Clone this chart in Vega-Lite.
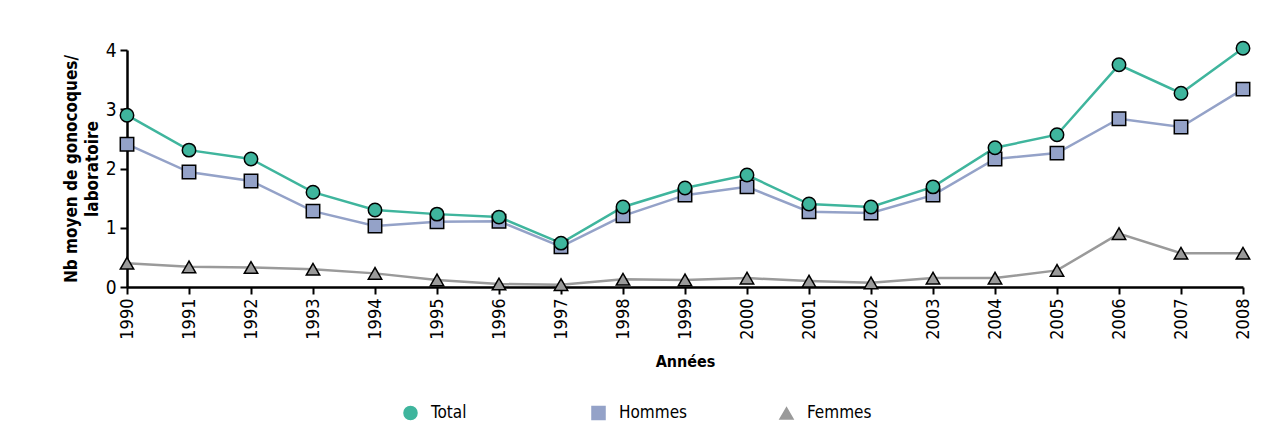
{
  "$schema": "https://vega.github.io/schema/vega-lite/v6.json",
  "autosize": "none",
  "width": 1116,
  "height": 237,
  "padding": {"left": 127, "top": 50, "right": 42, "bottom": 152},
  "background": "white",
  "config": {
    "font": "DejaVu Sans Condensed, Roboto",
    "view": {"stroke": null},
    "axis": {"domainColor": "black", "tickColor": "black", "labelColor": "black", "titleColor": "black", "grid": false}
  },
  "data": {"values": [
    {"year": "1990", "s": "Femmes", "v": 0.40}, {"year": "1991", "s": "Femmes", "v": 0.34}, {"year": "1992", "s": "Femmes", "v": 0.33},
    {"year": "1993", "s": "Femmes", "v": 0.30}, {"year": "1994", "s": "Femmes", "v": 0.23}, {"year": "1995", "s": "Femmes", "v": 0.12},
    {"year": "1996", "s": "Femmes", "v": 0.05}, {"year": "1997", "s": "Femmes", "v": 0.04}, {"year": "1998", "s": "Femmes", "v": 0.13},
    {"year": "1999", "s": "Femmes", "v": 0.12}, {"year": "2000", "s": "Femmes", "v": 0.15}, {"year": "2001", "s": "Femmes", "v": 0.10},
    {"year": "2002", "s": "Femmes", "v": 0.07}, {"year": "2003", "s": "Femmes", "v": 0.15}, {"year": "2004", "s": "Femmes", "v": 0.15},
    {"year": "2005", "s": "Femmes", "v": 0.28}, {"year": "2006", "s": "Femmes", "v": 0.90}, {"year": "2007", "s": "Femmes", "v": 0.57},
    {"year": "2008", "s": "Femmes", "v": 0.57},
    {"year": "1990", "s": "Hommes", "v": 2.41}, {"year": "1991", "s": "Hommes", "v": 1.94}, {"year": "1992", "s": "Hommes", "v": 1.79},
    {"year": "1993", "s": "Hommes", "v": 1.28}, {"year": "1994", "s": "Hommes", "v": 1.03}, {"year": "1995", "s": "Hommes", "v": 1.10},
    {"year": "1996", "s": "Hommes", "v": 1.11}, {"year": "1997", "s": "Hommes", "v": 0.68}, {"year": "1998", "s": "Hommes", "v": 1.20},
    {"year": "1999", "s": "Hommes", "v": 1.55}, {"year": "2000", "s": "Hommes", "v": 1.69}, {"year": "2001", "s": "Hommes", "v": 1.27},
    {"year": "2002", "s": "Hommes", "v": 1.25}, {"year": "2003", "s": "Hommes", "v": 1.55}, {"year": "2004", "s": "Hommes", "v": 2.16},
    {"year": "2005", "s": "Hommes", "v": 2.26}, {"year": "2006", "s": "Hommes", "v": 2.84}, {"year": "2007", "s": "Hommes", "v": 2.70},
    {"year": "2008", "s": "Hommes", "v": 3.34},
    {"year": "1990", "s": "Total", "v": 2.90}, {"year": "1991", "s": "Total", "v": 2.31}, {"year": "1992", "s": "Total", "v": 2.16},
    {"year": "1993", "s": "Total", "v": 1.60}, {"year": "1994", "s": "Total", "v": 1.30}, {"year": "1995", "s": "Total", "v": 1.23},
    {"year": "1996", "s": "Total", "v": 1.18}, {"year": "1997", "s": "Total", "v": 0.74}, {"year": "1998", "s": "Total", "v": 1.35},
    {"year": "1999", "s": "Total", "v": 1.67}, {"year": "2000", "s": "Total", "v": 1.89}, {"year": "2001", "s": "Total", "v": 1.40},
    {"year": "2002", "s": "Total", "v": 1.35}, {"year": "2003", "s": "Total", "v": 1.69}, {"year": "2004", "s": "Total", "v": 2.35},
    {"year": "2005", "s": "Total", "v": 2.57}, {"year": "2006", "s": "Total", "v": 3.75}, {"year": "2007", "s": "Total", "v": 3.27},
    {"year": "2008", "s": "Total", "v": 4.03}
  ]},
  "encoding": {
    "x": {"field": "year", "type": "ordinal", "scale": {"type": "point", "padding": 0},
      "axis": {"title": "Années", "labelAngle": -90, "labelFontSize": 18, "titleFontSize": 16, "titleFontWeight": "bold", "domainWidth": 2.5, "tickWidth": 2, "tickSize": 7, "labelPadding": 4, "titlePadding": 14}},
    "y": {"field": "v", "type": "quantitative", "scale": {"domain": [0, 4], "nice": false},
      "axis": {"title": ["Nb moyen de gonocoques/", "laboratoire"], "values": [0, 1, 2, 3, 4], "labelFontSize": 19, "titleFontSize": 17, "titleFontWeight": "bold", "domainWidth": 2.5, "tickWidth": 2, "tickSize": 7, "labelPadding": 4, "titlePadding": 4, "titleLineHeight": 21}}
  },
  "layer": [
    {
      "mark": {"type": "line", "strokeWidth": 2.5},
      "encoding": {
        "color": {"field": "s", "type": "nominal",
          "scale": {"domain": ["Total", "Hommes", "Femmes"], "range": ["#3fb59d", "#94a2c8", "#9a9a9a"]},
          "legend": {"title": null, "orient": "none", "legendX": 275, "legendY": 354, "direction": "horizontal", "columns": 3, "gridAlign": "all", "labelFontSize": 17, "columnPadding": 88, "symbolSize": 170, "labelOffset": 12, "labelColor": "black",
            "encode": {"symbols": {"enter": {"stroke": {"value": "black"}, "strokeWidth": {"value": 1.5}}, "update": {"stroke": {"value": "black"}, "strokeWidth": {"value": 1.5}}}}}}
      }
    },
    {
      "mark": {"type": "point", "filled": true, "stroke": "black", "strokeWidth": 1.5, "opacity": 1, "size": 180},
      "encoding": {
        "color": {"field": "s", "type": "nominal"},
        "shape": {"field": "s", "type": "nominal",
          "scale": {"domain": ["Total", "Hommes", "Femmes"], "range": ["circle", "square", "triangle-up"]}}
      }
    }
  ]
}
